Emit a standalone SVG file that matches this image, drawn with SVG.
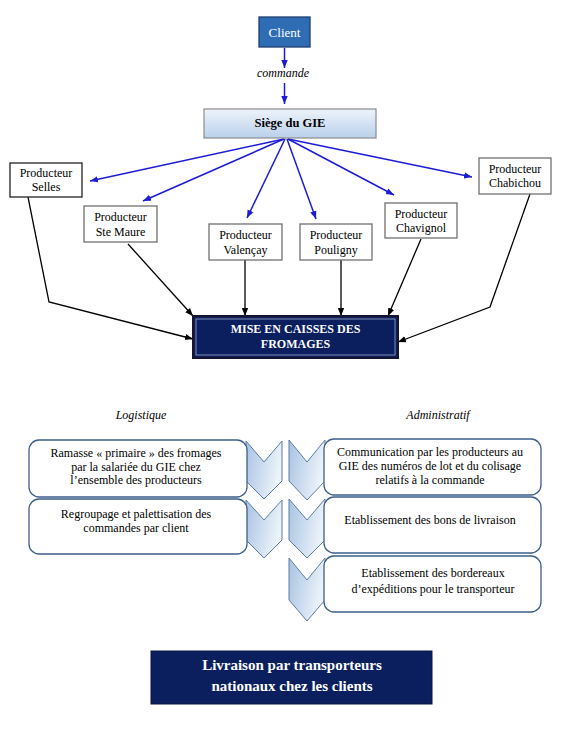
<svg xmlns="http://www.w3.org/2000/svg" width="566" height="734" viewBox="0 0 566 734">
<defs>
<linearGradient id="siegeGrad" x1="0" y1="0" x2="0" y2="1">
<stop offset="0" stop-color="#EEF4FB"/>
<stop offset="1" stop-color="#B9D0EA"/>
</linearGradient>
<linearGradient id="chevGrad" x1="0" y1="0" x2="1" y2="0.3">
<stop offset="0" stop-color="#A8C3E3"/>
<stop offset="1" stop-color="#EDF3FA"/>
</linearGradient>
<marker id="arrBlue" markerWidth="8" markerHeight="8" viewBox="0 0 10 10" refX="10" refY="5" orient="auto" markerUnits="userSpaceOnUse">
<path d="M0,1 L10,5 L0,9 Z" fill="#1C1CD6"/>
</marker>
<marker id="arrBlack" markerWidth="8" markerHeight="8" viewBox="0 0 10 10" refX="10" refY="5" orient="auto" markerUnits="userSpaceOnUse">
<path d="M0,1 L10,5 L0,9 Z" fill="#000"/>
</marker>
</defs>
<style>
text { font-family: "Liberation Serif", "Times New Roman", serif; }
.prod rect { fill: #fff; stroke: #707070; stroke-width: 1.3; }
.prod text { font-size: 12px; fill: #000; text-anchor: middle; }
.blue { stroke: #1C1CD6; stroke-width: 1.5; fill: none; marker-end: url(#arrBlue); }
.black { stroke: #000; stroke-width: 1.3; fill: none; marker-end: url(#arrBlack); }
.step rect { fill: #fff; stroke: #3E5F8A; stroke-width: 1.3; }
.step text { font-size: 12px; fill: #000; text-anchor: middle; }
.chev { fill: url(#chevGrad); stroke: #5A7DA5; stroke-width: 1; }
.navy { fill: #0B1F5E; }
.wbold { fill: #fff; font-weight: bold; text-anchor: middle; }
.ital { font-style: italic; font-size: 12px; text-anchor: middle; fill: #000; }
</style>
<rect x="0" y="0" width="566" height="734" fill="#fff"/>

<g id="connectors">
<line class="blue" x1="284.5" y1="48" x2="284.5" y2="68"/>
<line class="blue" x1="284.5" y1="83" x2="284.5" y2="104"/>
<line class="blue" x1="284" y1="139" x2="90" y2="181"/>
<line class="blue" x1="284" y1="139" x2="143" y2="201"/>
<line class="blue" x1="285" y1="139" x2="247" y2="218"/>
<line class="blue" x1="287" y1="139" x2="316" y2="219"/>
<line class="blue" x1="288" y1="139" x2="394" y2="195"/>
<line class="blue" x1="288" y1="139" x2="472" y2="177"/>
<polyline class="black" points="28,197 49,302 193,339"/>
<line class="black" x1="128" y1="244" x2="193" y2="316"/>
<line class="black" x1="245" y1="260" x2="245" y2="316"/>
<line class="black" x1="341" y1="260" x2="341" y2="316"/>
<line class="black" x1="421" y1="239" x2="388" y2="316"/>
<polyline class="black" points="530,194 490,307 398,342"/>
</g>

<g id="client">
<rect x="259" y="17" width="51" height="30" fill="#2E6DB4" stroke="#1E3F6E" stroke-width="1.3"/>
<text x="284.5" y="37" font-size="13" fill="#fff" text-anchor="middle">Client</text>
</g>

<text id="commande" class="ital" x="283" y="77">commande</text>

<g id="siege">
<rect x="204" y="109" width="172" height="29" fill="url(#siegeGrad)" stroke="#8C8C8C" stroke-width="1.2"/>
<text x="290" y="127" font-size="12.5" font-weight="bold" text-anchor="middle" fill="#000">Siège du GIE</text>
</g>

<g id="prod-selles" class="prod">
<rect x="10" y="163" width="72" height="34" style="stroke:#222"/>
<text x="46" y="177">Producteur</text>
<text x="46" y="191">Selles</text>
</g>
<g id="prod-stemaure" class="prod">
<rect x="84" y="206" width="73" height="36"/>
<text x="120.5" y="221">Producteur</text>
<text x="120.5" y="236">Ste Maure</text>
</g>
<g id="prod-valencay" class="prod">
<rect x="209" y="224" width="73" height="36"/>
<text x="245.5" y="239">Producteur</text>
<text x="245.5" y="254">Valençay</text>
</g>
<g id="prod-pouligny" class="prod">
<rect x="300" y="224" width="72" height="36"/>
<text x="336" y="239">Producteur</text>
<text x="336" y="254">Pouligny</text>
</g>
<g id="prod-chavignol" class="prod">
<rect x="385" y="203" width="72" height="35"/>
<text x="421" y="218">Producteur</text>
<text x="421" y="232">Chavignol</text>
</g>
<g id="prod-chabichou" class="prod">
<rect x="479" y="158" width="72" height="36"/>
<text x="515" y="173">Producteur</text>
<text x="515" y="187">Chabichou</text>
</g>

<g id="mise">
<rect x="193" y="316" width="205" height="42" class="navy" stroke="#151530" stroke-width="2"/>
<rect x="196" y="319" width="199" height="36" fill="none" stroke="#9FA8C8" stroke-width="0.8"/>
<text class="wbold" x="295.5" y="333" font-size="12">MISE EN CAISSES DES</text>
<text class="wbold" x="295.5" y="348" font-size="12">FROMAGES</text>
</g>

<text id="logistique" class="ital" x="141" y="419">Logistique</text>
<text id="administratif" class="ital" x="438" y="419">Administratif</text>

<g id="chevrons">
<path class="chev" d="M246,441 L264,462 L282,441 L282,481 L264,499 L246,481 Z"/>
<path class="chev" d="M246,500 L264,520 L282,500 L282,540 L264,558 L246,540 Z"/>
<path class="chev" d="M289,440 L307,462 L325,440 L325,481 L307,500 L289,481 Z"/>
<path class="chev" d="M289,499 L307,520 L325,499 L325,540 L307,558 L289,540 Z"/>
<path class="chev" d="M289,558 L307,580 L325,558 L325,600 L307,621 L289,600 Z"/>
</g>

<g id="log1" class="step">
<rect x="29" y="440" width="218" height="57" rx="10"/>
<text x="136" y="457">Ramasse « primaire » des fromages</text>
<text x="136" y="471">par la salariée du GIE chez</text>
<text x="136" y="484">l’ensemble des producteurs</text>
</g>
<g id="log2" class="step">
<rect x="29" y="499" width="218" height="55" rx="10"/>
<text x="136" y="518">Regroupage et palettisation des</text>
<text x="136" y="532">commandes par client</text>
</g>
<g id="adm1" class="step">
<rect x="324" y="439" width="217" height="56" rx="10"/>
<text x="430" y="456">Communication par les producteurs au</text>
<text x="430" y="470">GIE des numéros de lot et du colisage</text>
<text x="430" y="484">relatifs à la commande</text>
</g>
<g id="adm2" class="step">
<rect x="324" y="497" width="217" height="56" rx="10"/>
<text x="430" y="524">Etablissement des bons de livraison</text>
</g>
<g id="adm3" class="step">
<rect x="324" y="556" width="217" height="56" rx="10"/>
<text x="433" y="577">Etablissement des bordereaux</text>
<text x="433" y="593">d’expéditions pour le transporteur</text>
</g>

<g id="livraison">
<rect x="151" y="651" width="281" height="53" class="navy" stroke="#0A1640" stroke-width="1"/>
<text class="wbold" x="292" y="670" font-size="15">Livraison par transporteurs</text>
<text class="wbold" x="292" y="691" font-size="15">nationaux chez les clients</text>
</g>
</svg>
